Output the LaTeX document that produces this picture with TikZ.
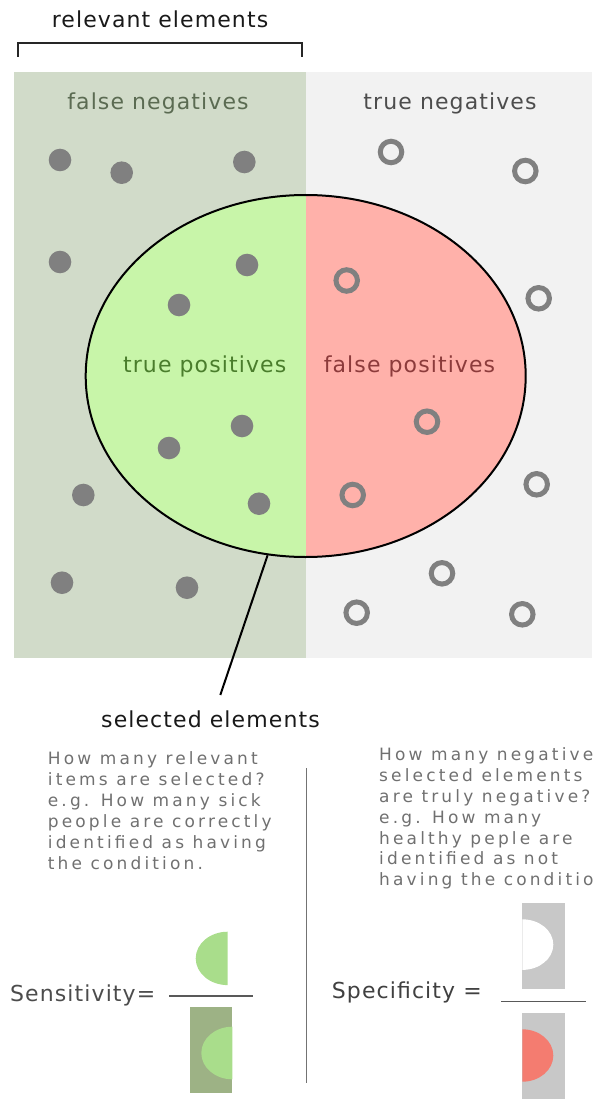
\documentclass[tikz,border=0pt]{standalone}
\usepackage{fontspec}
\setmainfont{DejaVu Sans}
\newfontfamily\lblfont[LetterSpace=5]{DejaVu Sans}
\newfontfamily\txtfont[LetterSpace=18.5]{DejaVu Sans}
\usetikzlibrary{shapes.geometric}

\definecolor{fngreen}{HTML}{D1DBC9}
\definecolor{tngray}{HTML}{F2F2F2}
\definecolor{tpgreen}{HTML}{C8F5A9}
\definecolor{fppink}{HTML}{FFB1AA}
\definecolor{dotgray}{HTML}{808080}
\definecolor{fntext}{HTML}{5B6B52}
\definecolor{tntext}{HTML}{4D4D4D}
\definecolor{tptext}{HTML}{4A7D2C}
\definecolor{fptext}{HTML}{8C3B3B}
\definecolor{paragray}{HTML}{707070}
\definecolor{halfgreen}{HTML}{A9DD8B}
\definecolor{boxolive}{HTML}{9DB285}
\definecolor{boxgray}{HTML}{C8C8C8}
\definecolor{halfred}{HTML}{F47C70}

\tikzset{
  lbl/.style={font=\lblfont\fontsize{22}{26}\selectfont, anchor=base, inner sep=0pt},
  para/.style={font=\txtfont\fontsize{17}{21}\selectfont, anchor=base west, inner sep=0pt, text=paragray},
  hit/.style={fill=dotgray},
  miss/.style={draw=dotgray, line width=5pt},
  fracline/.style={draw=black!65, line width=1.5pt}
}

\begin{document}
\begin{tikzpicture}[x=1pt,y=-1pt]
	\useasboundingbox (0,0) rectangle (592,1099);

	%relevant elements and its bracket
	\node[lbl, text=black!90] (rel) at (160,28) {relevant elements};
	\draw[line width=2pt, black!85] (18,57) -- (18,43.3) -- (301.7,43.3) -- (301.7,57);

	%the two halves of the population
	\fill[fngreen] (14,71.7) rectangle (305.7,658);
	\fill[tngray] (305.7,71.7) rectangle (592,658);
	\node[lbl, text=fntext] (fn) at (158,110) {false negatives};
	\node[lbl, text=tntext] (tn) at (450,110) {true negatives};

	%the selected elements
	\node[ellipse, draw=black, line width=2pt, minimum width=440pt, minimum height=362pt, inner sep=0pt,
	  path picture={
	    \fill[tpgreen] (path picture bounding box.south west) rectangle (path picture bounding box.north);
	    \fill[fppink] (path picture bounding box.north) rectangle (path picture bounding box.south east);
	  }] (sel) at (305.7,376) {};
	\node[lbl, text=tptext] (tp) at (204.7,372.7) {true positives};
	\node[lbl, text=fptext] (fp) at (409.5,372.7) {false positives};

	%relevant items
	\foreach \x/\y in {60/160, 121.7/172.7, 244.3/162, 60/262, 247/265, 179/305,
	  242/426, 169/448, 259/503.7, 83.3/495, 62/582.7, 187/587.7}
	  \fill[hit] (\x,\y) circle[radius=11.3];
	%non relevant items
	\foreach \x/\y in {391/152, 525.3/171, 538.7/298.3, 346.7/280.5, 427/421.7, 352.7/495,
	  536.7/484.3, 442/573.3, 356.7/612.7, 522.3/614.3}
	  \draw[miss] (\x,\y) circle[radius=10.75];

	\coordinate (seltip) at (220.3,695);
	\draw[line width=2pt] (sel.-102) -- (seltip);
	\node[lbl, text=black!90] (sellbl) at (210.5,727) {selected elements};

	%explanations
	\foreach \ln [count=\i from 0] in {How many relevant, items are selected?, e.g. How many sick,
	  people are correctly, identified as having, the condition.}
	  \node[para] (sens\i) at (47.7,764+21.06*\i) {\ln};
	\foreach \ln [count=\i from 0] in {How many negative, selected elements, are truly negative?,
	  e.g. How many, healthy peple are, identified as not, having the condition.}
	  \node[para] (spec\i) at (379,760.7+20.83*\i) {\ln};
	\draw[line width=1.5pt, black!55] (306.7,768) -- (306.7,1082.7);

	%Sensitivity
	\node[lbl, anchor=base west, text=black!70] (senslbl) at (10,1001.7) {Sensitivity=};
	\fill[halfgreen] (227.7,931.7) arc[start angle=270, end angle=90, x radius=32, y radius=26.7] -- cycle;
	\draw[fracline] (169,996) -- (253.3,996);
	\fill[boxolive] (190,1007.3) rectangle (232.3,1093.3);
	\fill[halfgreen] (232.3,1026.7) arc[start angle=270, end angle=90, x radius=31, y radius=26.3] -- cycle;

	%Specificity
	\node[lbl, anchor=base west, text=black!75] (speclbl) at (331.7,998.3) {Specificity =};
	\fill[boxgray] (522.3,903.3) rectangle (565.3,989);
	\fill[white] (522.3,919.3) arc[start angle=-90, end angle=90, x radius=31, y radius=25.3] -- cycle;
	\draw[fracline] (501,1001.7) -- (586,1001.7);
	\fill[boxgray] (522.3,1013.3) rectangle (565.3,1105);
	\fill[halfred] (522.3,1029.3) arc[start angle=-90, end angle=90, x radius=31, y radius=26.2] -- cycle;

\end{tikzpicture}
\end{document}
